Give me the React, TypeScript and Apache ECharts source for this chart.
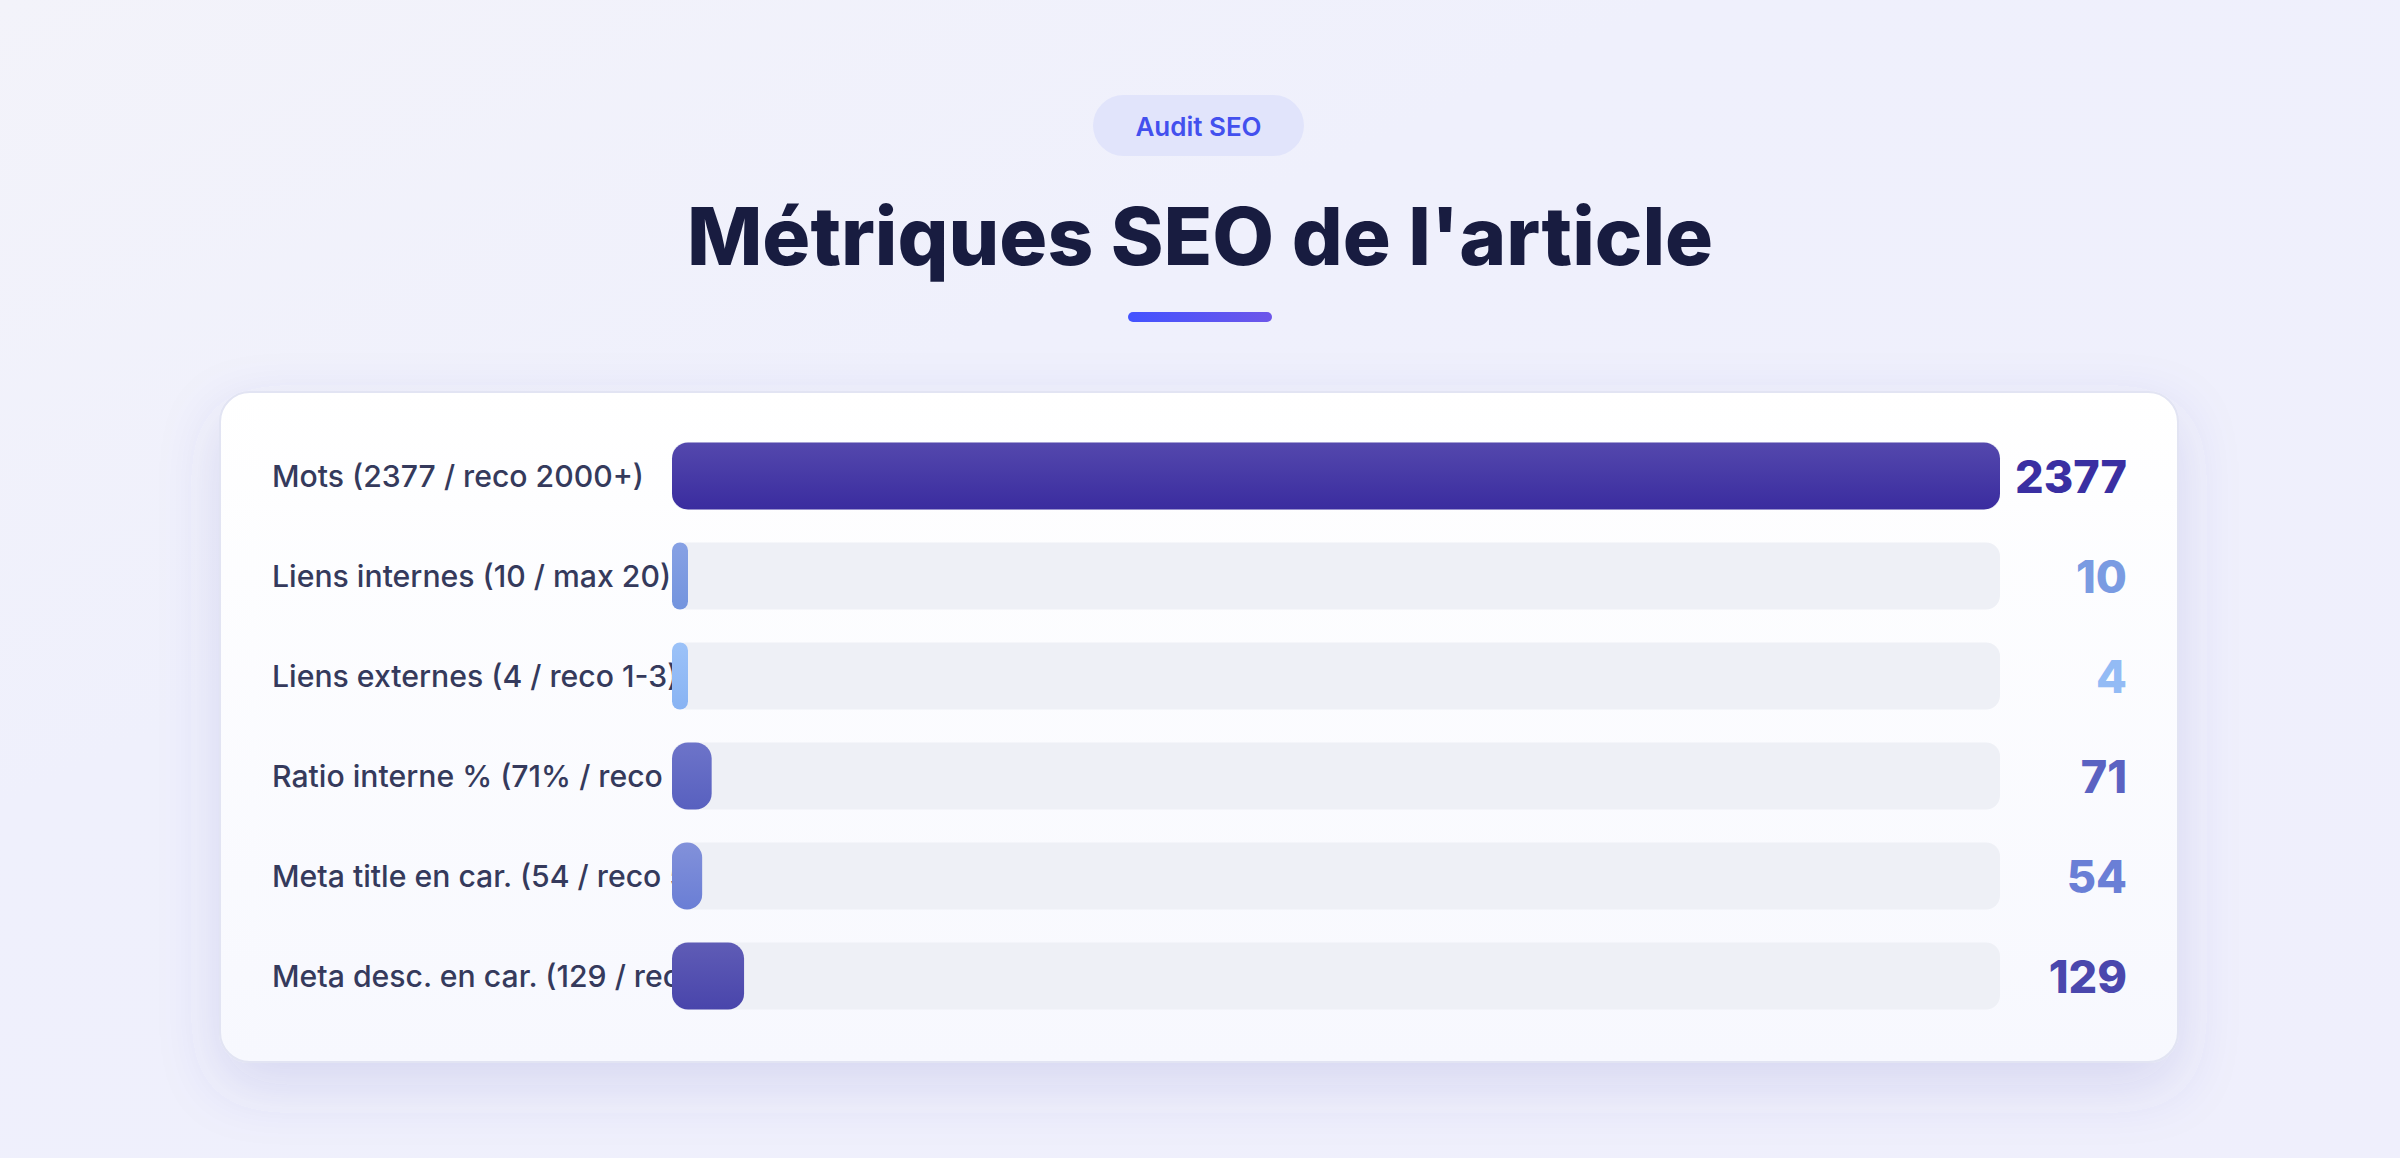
import { useEffect, useRef } from "react"
import * as echarts from "echarts"

const categories = [
  "Mots (2377 / reco 2000+)",
  "Liens internes (10 / max 20)",
  "Liens externes (4 / reco 1-3)",
  "Ratio interne % (71% / reco 60-80)",
  "Meta title en car. (54 / reco 50-60)",
  "Meta desc. en car. (129 / reco 150-160)",
]
const values = [2377, 10, 4, 71, 54, 129]
const barTop = ["#5448ad", "#87a1e4", "#9cc2f8", "#6d74c9", "#8291da", "#5f5cb6"]
const barBottom = ["#3a2c9f", "#7394de", "#88b3f3", "#5860bf", "#6a7ed5", "#4945ab"]
const valueColors = ["#3a2fa2", "#7a9be2", "#93bbf5", "#5b62c2", "#6a7fd6", "#4a47ad"]

const FONT = "Inter, 'Noto Sans', sans-serif"

export default function App() {
  const chartRef = useRef<HTMLDivElement>(null)

  useEffect(() => {
    if (!chartRef.current) return
    const chart = echarts.init(chartRef.current, null, { renderer: "svg" })

    const vertical = (a: string, b: string) =>
      new echarts.graphic.LinearGradient(0, 0, 0, 1, [
        { offset: 0, color: a },
        { offset: 1, color: b },
      ])

    chart.setOption({
      animation: false,
      backgroundColor: new echarts.graphic.LinearGradient(0, 0, 1, 1, [
        { offset: 0, color: "#f3f3fa" },
        { offset: 0.35, color: "#eff0fc" },
        { offset: 1, color: "#efeffc" },
      ]),
      graphic: [
        {
          type: "rect",
          z: -10,
          shape: { x: 220, y: 392, width: 1958, height: 670, r: 30 },
          style: {
            fill: vertical("#ffffff", "#f7f8fe"),
            stroke: "#e2e4f3",
            lineWidth: 2,
            shadowBlur: 60,
            shadowOffsetY: 22,
            shadowColor: "rgba(80, 84, 180, 0.15)",
          },
        },
        {
          type: "rect",
          shape: { x: 1093, y: 95, width: 211, height: 61, r: 30.5 },
          style: { fill: "#e1e4fb" },
        },
        {
          type: "text",
          style: {
            text: "Audit SEO",
            x: 1198.5,
            y: 126,
            align: "center",
            verticalAlign: "middle",
            font: `600 26px ${FONT}`,
            fill: "#4350ee",
          },
        },
        {
          type: "text",
          style: {
            text: "Métriques SEO de l'article",
            x: 1200,
            y: 235,
            align: "center",
            verticalAlign: "middle",
            font: `800 80px ${FONT}`,
            fill: "#181c40",
          },
        },
        {
          type: "rect",
          shape: { x: 1128, y: 312, width: 144, height: 10, r: 5 },
          style: {
            fill: new echarts.graphic.LinearGradient(0, 0, 1, 0, [
              { offset: 0, color: "#4353ff" },
              { offset: 1, color: "#6d56e9" },
            ]),
          },
        },
      ],
      grid: { left: 672, right: 400, top: 426, height: 600, containLabel: false },
      xAxis: {
        type: "value",
        min: 0,
        max: Math.max(...values),
        show: false,
      },
      yAxis: [
        {
          type: "category",
          data: categories,
          inverse: true,
          axisLine: { show: false },
          axisTick: { show: false },
          axisLabel: {
            align: "left",
            margin: 400,
            fontFamily: FONT,
            fontSize: 30.2,
            fontWeight: 500,
            color: "#353a5c",
          },
        },
        {
          type: "category",
          position: "right",
          data: values.map(String),
          inverse: true,
          axisLine: { show: false },
          axisTick: { show: false },
          axisLabel: {
            align: "right",
            margin: 127,
            fontFamily: FONT,
            fontSize: 45,
            fontWeight: 800,
            color: (_v: string, i: number) => valueColors[i],
          },
        },
      ],
      series: [
        {
          type: "bar",
          yAxisIndex: 0,
          barWidth: 67,
          barMinHeight: 16,
          showBackground: true,
          backgroundStyle: { color: "#eef0f6", borderRadius: 14 },
          itemStyle: { borderRadius: 16 },
          data: values.map((v, i) => ({
            value: v,
            itemStyle: { color: vertical(barTop[i], barBottom[i]) },
          })),
        },
      ],
    })

    return () => chart.dispose()
  }, [])

  return (
    <div
      ref={chartRef}
      style={{ position: "fixed", left: 0, top: 0, width: "2400px", height: "1158px" }}
    />
  )
}
